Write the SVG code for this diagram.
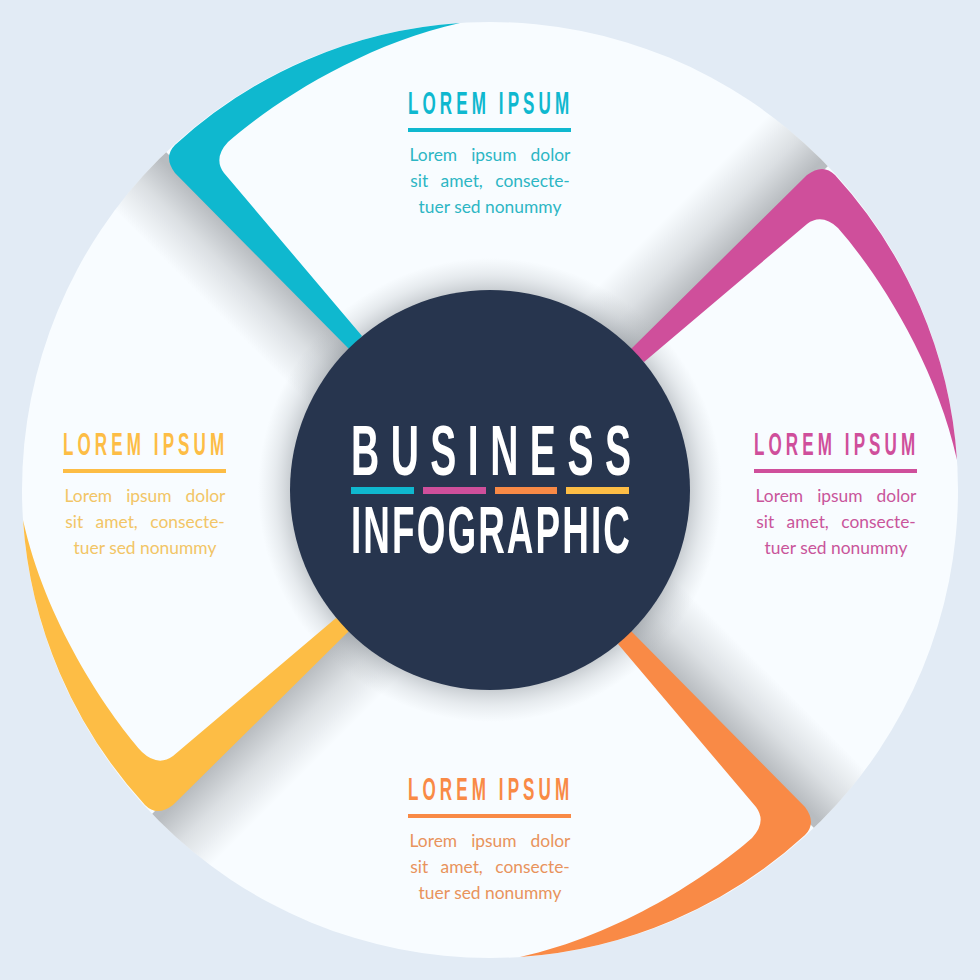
<svg xmlns="http://www.w3.org/2000/svg" width="980" height="980" viewBox="0 0 980 980">
<style>
.h{font-family:"Liberation Sans",Arial,sans-serif;font-size:31px;font-weight:700}
.b{font-family:Lato,"Open Sans",sans-serif;font-size:17.4px;text-anchor:middle}
.b .l1{word-spacing:9.5px}.b .l2{word-spacing:8px}
.t{font-family:"Liberation Sans",Arial,sans-serif;font-weight:700;fill:#fff}
.teal{fill:#0fb8cf}.pink{fill:#cf4f9b}.orange{fill:#f98a46}.yellow{fill:#fdbd45}
.tealt{fill:#2db6c4}.pinkt{fill:#c9559b}.oranget{fill:#e8935c}.yellowt{fill:#f2c566}
</style>
<defs>
<clipPath id="disc"><circle cx="490" cy="490" r="468"/></clipPath>
<linearGradient id="sh" gradientUnits="userSpaceOnUse" x1="261" y1="259" x2="212" y2="308">
<stop offset="0" stop-color="#b8bcc0"/><stop offset="0.45" stop-color="#b8bcc0" stop-opacity=".45"/><stop offset="1" stop-color="#b8bcc0" stop-opacity="0"/>
</linearGradient>
<radialGradient id="ring" gradientUnits="userSpaceOnUse" cx="490" cy="490" r="232">
<stop offset="0.86" stop-color="#8d9399" stop-opacity=".45"/><stop offset="0.93" stop-color="#a9aeb3" stop-opacity=".22"/><stop offset="1" stop-color="#b4b9bd" stop-opacity="0"/>
</radialGradient>
<path id="shadow" d="M132 118L392 378L327 431L67 171Z" fill="url(#sh)"/>
<path id="band" d="M460 23A468 468 0 0 0 175 145Q163 157 175 173L350 350L362 336L224 173Q213 158 228 142C270 105 360 45 460 23Z"/>
</defs>
<rect width="980" height="980" fill="#e2ebf5"/>
<circle cx="490" cy="490" r="468" fill="#f8fcff"/>
<g id="shadows" clip-path="url(#disc)">
<use href="#shadow"/>
<use href="#shadow" transform="rotate(90 490 490)"/>
<use href="#shadow" transform="rotate(180 490 490)"/>
<use href="#shadow" transform="rotate(270 490 490)"/>
</g>
<circle id="hub-shadow" cx="490" cy="490" r="232" fill="url(#ring)"/>
<g id="bands">
<use href="#band" class="teal"/>
<use href="#band" class="pink" transform="rotate(90 490 490)"/>
<use href="#band" class="orange" transform="rotate(180 490 490)"/>
<use href="#band" class="yellow" transform="rotate(270 490 490)"/>
</g>
<g id="hub">
<circle cx="490" cy="490" r="200" fill="#27354e"/>
<text class="t" transform="translate(351 475) scale(.55 1)" font-size="71" textLength="509" lengthAdjust="spacing">BUSINESS</text>
<rect x="351" y="487" width="63" height="7" class="teal"/>
<rect x="423" y="487" width="63" height="7" class="pink"/>
<rect x="495" y="487" width="62" height="7" class="orange"/>
<rect x="566" y="487" width="63" height="7" class="yellow"/>
<text class="t" transform="translate(351 553) scale(.55 1)" font-size="67" textLength="507" lengthAdjust="spacing">INFOGRAPHIC</text>
</g>
<g id="node-top" transform="translate(408 0)">
<text class="h teal" transform="translate(0 114) scale(.55 1)" textLength="293" lengthAdjust="spacing">LOREM IPSUM</text>
<rect y="128" width="163" height="4" class="teal"/>
<g class="b tealt"><text class="l1" x="82" y="161">Lorem ipsum dolor</text><text class="l2" x="82" y="187">sit amet, consecte-</text><text x="82" y="213">tuer sed nonummy</text></g>
</g>
<g id="node-right" transform="translate(754 341)">
<text class="h pink" transform="translate(0 114) scale(.55 1)" textLength="293" lengthAdjust="spacing">LOREM IPSUM</text>
<rect y="128" width="163" height="4" class="pink"/>
<g class="b pinkt"><text class="l1" x="82" y="161">Lorem ipsum dolor</text><text class="l2" x="82" y="187">sit amet, consecte-</text><text x="82" y="213">tuer sed nonummy</text></g>
</g>
<g id="node-bottom" transform="translate(408 686)">
<text class="h orange" transform="translate(0 114) scale(.55 1)" textLength="293" lengthAdjust="spacing">LOREM IPSUM</text>
<rect y="128" width="163" height="4" class="orange"/>
<g class="b oranget"><text class="l1" x="82" y="161">Lorem ipsum dolor</text><text class="l2" x="82" y="187">sit amet, consecte-</text><text x="82" y="213">tuer sed nonummy</text></g>
</g>
<g id="node-left" transform="translate(63 341)">
<text class="h yellow" transform="translate(0 114) scale(.55 1)" textLength="293" lengthAdjust="spacing">LOREM IPSUM</text>
<rect y="128" width="163" height="4" class="yellow"/>
<g class="b yellowt"><text class="l1" x="82" y="161">Lorem ipsum dolor</text><text class="l2" x="82" y="187">sit amet, consecte-</text><text x="82" y="213">tuer sed nonummy</text></g>
</g>
</svg>
